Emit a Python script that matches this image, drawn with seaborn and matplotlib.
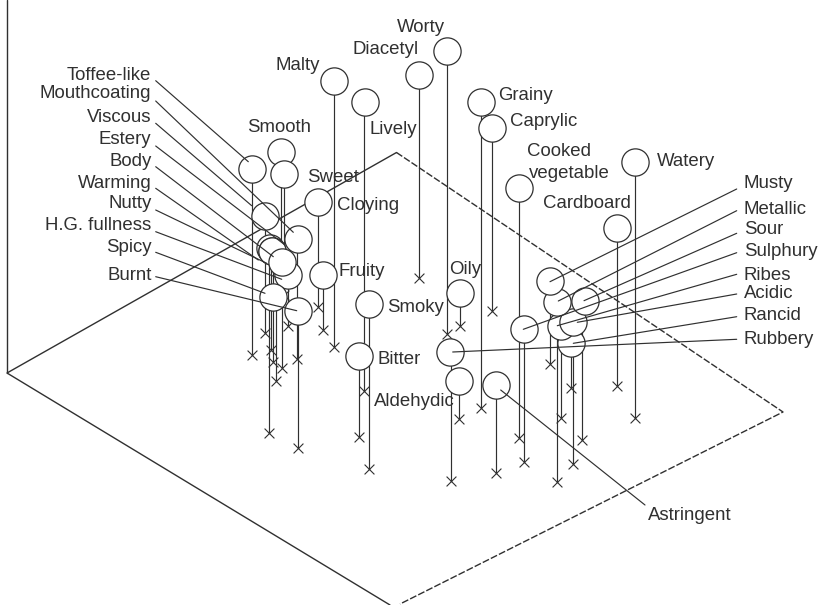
import matplotlib
matplotlib.use("Agg")
import matplotlib.pyplot as plt
import pandas as pd
import seaborn as sns

# attribute, projected position of the sphere, foot of its drop line (drawing order)
names = ["Smooth", "Sweet", "Toffee-like", "Viscous", "Mouthcoating", "Estery", "Body", "Nutty",
         "H.G. fullness", "Warming", "Spicy", "Burnt", "Cloying", "Fruity", "Malty", "Lively",
         "Smoky", "Bitter", "Diacetyl", "Worty", "Oily", "Aldehydic", "Rubbery", "Astringent",
         "Grainy", "Caprylic", "Cooked vegetable", "Watery", "Cardboard", "Sulphury", "Rancid",
         "Ribes", "Acidic", "Metallic", "Sour", "Musty"]
sphere_x = [280.7, 284, 251.7, 265.5, 298.3, 270, 272, 272, 288.3, 282.3, 273.3, 297.7, 318, 322.7,
            334, 364.8, 368.7, 359.3, 419, 446.7, 459.7, 459, 450.3, 495.7, 481, 492, 519.3, 635.3,
            616.7, 524, 571.3, 561, 573.3, 557.3, 585, 550.3]
sphere_y = [151.7, 173.7, 169, 215.7, 239.3, 248, 251, 251, 275, 261.7, 296.7, 310.7, 201.5, 275.3,
            80.7, 102.3, 304.3, 355.7, 75.3, 50.7, 293, 380.7, 352, 385, 102, 127.7, 188.3, 162,
            228.3, 329, 343.3, 325.7, 321.7, 302.3, 301.3, 280.7]
foot_x = [280.7, 284, 251.7, 265.5, 297.3, 269.3, 270.7, 273.5, 288.3, 282.5, 275.7, 298.3, 318, 322.7,
          334, 364.5, 369, 359.3, 419, 446.7, 459.7, 459, 450.7, 495.7, 481.2, 492, 519.3, 635.3,
          617, 524, 571, 561.3, 572.7, 557, 581.7, 550]
foot_y = [290, 295, 355, 332.7, 359, 433.3, 350, 361.7, 326, 367.7, 381, 447.7, 307.3, 330.3,
          346.7, 391.3, 469.3, 436.7, 277.7, 334.3, 325.5, 419.3, 480.7, 472.7, 407.5, 311, 437.7, 417.7,
          386, 461.7, 388.3, 418, 463.7, 482, 440, 364]

# leader lines
left_labels = ["Toffee-like", "Mouthcoating", "Viscous", "Estery", "Body", "Warming", "Nutty",
               "H.G. fullness", "Spicy", "Burnt"]
left_text_y = [75, 94, 118, 139, 161, 183, 203, 226, 247, 275]
left_start_y = [80.7, 101, 123.3, 146, 166.7, 188.3, 210, 231.7, 252.3, 276.7]
left_end_x = [248.3, 293.3, 251.7, 285, 273.3, 258.3, 266.7, 281.7, 265, 296.7]
left_end_y = [161.7, 232.3, 205.7, 245, 256.7, 260, 263.3, 279.3, 293.3, 310.7]

right_labels = ["Musty", "Metallic", "Sour", "Sulphury", "Ribes", "Acidic", "Rancid", "Rubbery"]
right_text_y = [183, 209, 230, 252, 275, 293, 316, 339]
right_start_y = [189, 210.7, 233.3, 252.7, 274.3, 294, 316.7, 339.3]
right_end_x = [550, 558.3, 584, 523.3, 557.3, 577.3, 573.3, 452.7]
right_end_y = [281.7, 301, 300.7, 329.3, 325.7, 322.3, 343.3, 352]

free_labels = ["Smooth", "Sweet", "Cloying", "Malty", "Lively", "Diacetyl", "Worty", "Grainy",
               "Caprylic", "Cooked", "vegetable", "Watery", "Cardboard", "Astringent", "Fruity",
               "Smoky", "Bitter", "Aldehydic", "Oily"]
free_x = [279, 333, 368, 298, 393, 386, 421, 526, 544, 559, 569, 686, 587, 690, 362, 416, 399, 414, 465]
free_y = [128, 177, 205, 65, 130, 49, 27, 96, 121, 151, 173, 161, 203, 515, 271, 308, 359, 401, 270]

# floor and back edge of the 3-D box
wall_x = [7, 7]
wall_y = [0, 373]
solid_x = [390, 7, 396.5]
solid_y = [605, 373, 152.5]
dashed_x = [396.5, 783, 400]
dashed_y = [152.5, 412, 604]

INK = "#303030"
sns.set_theme(style="white")
plt.rcParams["font.family"] = ["Liberation Sans", "DejaVu Sans"]

df = pd.DataFrame({"name": names, "x": sphere_x, "y": sphere_y, "fx": foot_x, "fy": foot_y})

fig = plt.figure(figsize=(8.24, 6.05), dpi=100)
ax = fig.add_axes([0, 0, 1, 1])

ax.plot(wall_x, wall_y, color=INK, lw=1.0, zorder=1)
ax.plot(solid_x, solid_y, color=INK, lw=1.0, zorder=1)
ax.plot(dashed_x, dashed_y, color=INK, lw=1.0, ls=(0, (5, 1.5)), zorder=1)

ax.vlines(df["fx"], df["y"], df["fy"], color=INK, lw=0.85, zorder=2)
sns.scatterplot(data=df, x="fx", y="fy", marker="x", s=50, color=INK, linewidth=0.8, ax=ax,
                legend=False, zorder=2.5)
sns.scatterplot(data=df, x="x", y="y", marker="o", s=385, facecolor="white", edgecolor=INK,
                linewidth=0.9, ax=ax, legend=False, zorder=3)

for lab, ty, sy, ex, ey in zip(left_labels, left_text_y, left_start_y, left_end_x, left_end_y):
    ax.plot([155.7, ex], [sy, ey], color=INK, lw=0.85, zorder=4)
    ax.text(151.5, ty, lab, ha="right", va="center", fontsize=13.4, color=INK, zorder=5)
for lab, ty, sy, ex, ey in zip(right_labels, right_text_y, right_start_y, right_end_x, right_end_y):
    ax.plot([736.7, ex], [sy, ey], color=INK, lw=0.85, zorder=4)
    ax.text(744, ty, lab, ha="left", va="center", fontsize=13.4, color=INK, zorder=5)
ax.plot([500.7, 645], [390, 505], color=INK, lw=0.85, zorder=4)
for lab, tx, ty in zip(free_labels, free_x, free_y):
    ax.text(tx, ty, lab, ha="center", va="center", fontsize=13.4, color=INK, zorder=5)

ax.set_xlim(0, 824)
ax.set_ylim(605, 0)
ax.axis("off")
fig.savefig("out.png", dpi=100, facecolor="white")
